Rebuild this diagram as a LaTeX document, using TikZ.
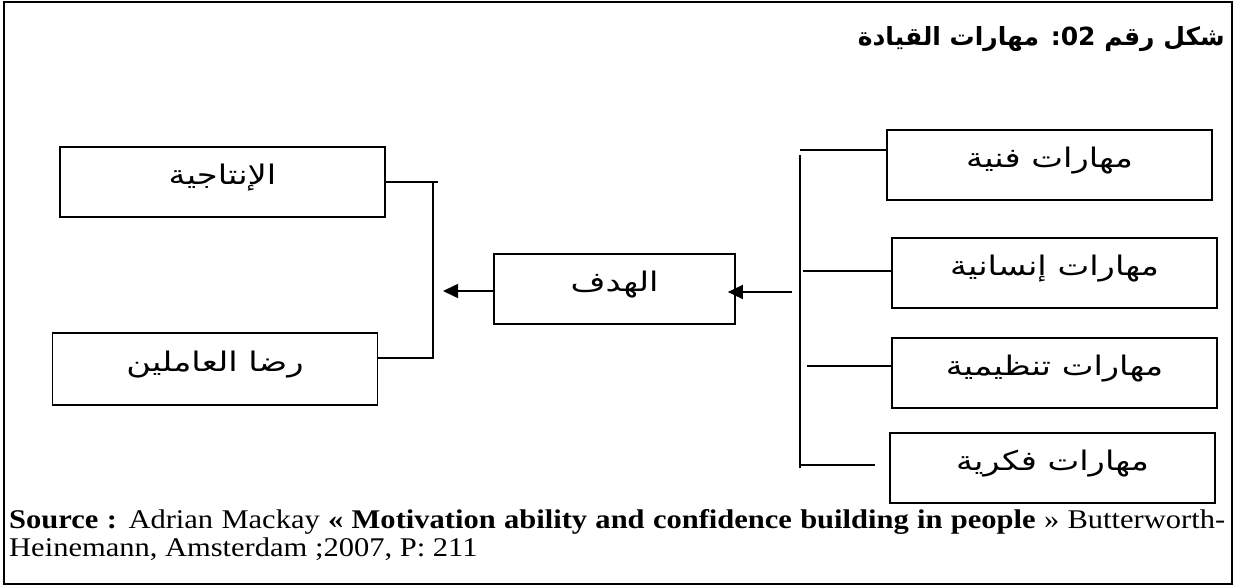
\documentclass[tikz,border=0pt]{standalone}
\usepackage{fontspec}
\setmainfont[FakeStretch=1.13]{Liberation Serif}
\newfontfamily\arabicfont[Script=Arabic,FakeStretch=1.25]{DejaVu Sans}
\newfontfamily\arabictitle[Script=Arabic]{DejaVu Sans}
\TeXXeTstate=1
\usetikzlibrary{arrows.meta,calc}
\begin{document}
\begin{tikzpicture}[x=1pt,y=1pt,
  box/.style={draw, line width=1.7pt, minimum width=325pt, minimum height=70pt, inner sep=0pt,
    font=\arabicfont\fontsize{27pt}{30pt}\selectfont, text height=14pt, text depth=10pt},
  conn/.style={line width=1.5pt},
  arr/.style={line width=1.5pt, -{Triangle[length=15pt,width=14pt]}}]
\useasboundingbox (0,0) rectangle (1235,-586);
\draw[line width=2.8pt] (4,-2) rectangle (1232,-584);
% title
\node[anchor=base east, inner sep=0pt, font=\arabictitle\bfseries\fontsize{25pt}{30pt}\selectfont] (title) at (1225,-46)
  {\beginR شكل رقم \beginL02\endL: مهارات القيادة\endR};
% right boxes
\node[box] (s1) at (1049.5,-165) {\beginR مهارات فنية\endR};
\node[box] (s2) at (1054.5,-273) {\beginR مهارات إنسانية\endR};
\node[box] (s3) at (1054.5,-373) {\beginR مهارات تنظيمية\endR};
\node[box] (s4) at (1052.5,-468) {\beginR مهارات فكرية\endR};
% middle
\node[box, minimum width=241pt] (goal) at (614.5,-289) {\beginR الهدف\endR};
% left
\node[box] (p1) at (222.5,-182) {\beginR الإنتاجية\endR};
\node[box, minimum height=72pt] (p2) at (215,-369) {\beginR رضا العاملين\endR};
% right bus
\coordinate (rt) at (800,-150);
\coordinate (rv1) at (800,-155);
\coordinate (rv2) at (800,-468);
\draw[conn] (rt) -- (rt -| s1.west);
\draw[conn] (rv1) -- (rv2);
\coordinate (r2) at (803,-271);
\draw[conn] (r2) -- (r2 -| s2.west);
\coordinate (r3) at (807,-366);
\draw[conn] (r3) -- (r3 -| s3.west);
\coordinate (r4) at (800,-465);
\coordinate (r4e) at (875,-465);
\draw[conn] (r4) -- (r4e);
% arrows
\coordinate (ra) at (792,-292);
\draw[arr, shorten >=-8pt] (ra) -- (ra -| goal.east);
\coordinate (lt) at (443,-291);
\draw[arr] (lt -| goal.west) -- (lt);
% left bus
\coordinate (lb1) at (433,-182);
\coordinate (lb2) at (433,-358);
\coordinate (lx) at (438,-182);
\draw[conn] (p1.east) -- (lx);
\draw[conn] (lb1) -- (lb2) -- (lb2 -| p2.east);
% source
\node[anchor=base west, inner sep=0pt, font=\fontsize{27pt}{29pt}\selectfont] (src1) at (9,-528)
  {\hbox to 1216pt{\textbf{Source :} Adrian Mackay \textbf{« Motivation ability and confidence building in people} » Butterworth-}};
\node[anchor=base west, inner sep=0pt, font=\fontsize{27pt}{29pt}\selectfont] (src2) at (9,-556)
  {Heinemann, Amsterdam ;2007, P: 211};
\end{tikzpicture}
\end{document}
